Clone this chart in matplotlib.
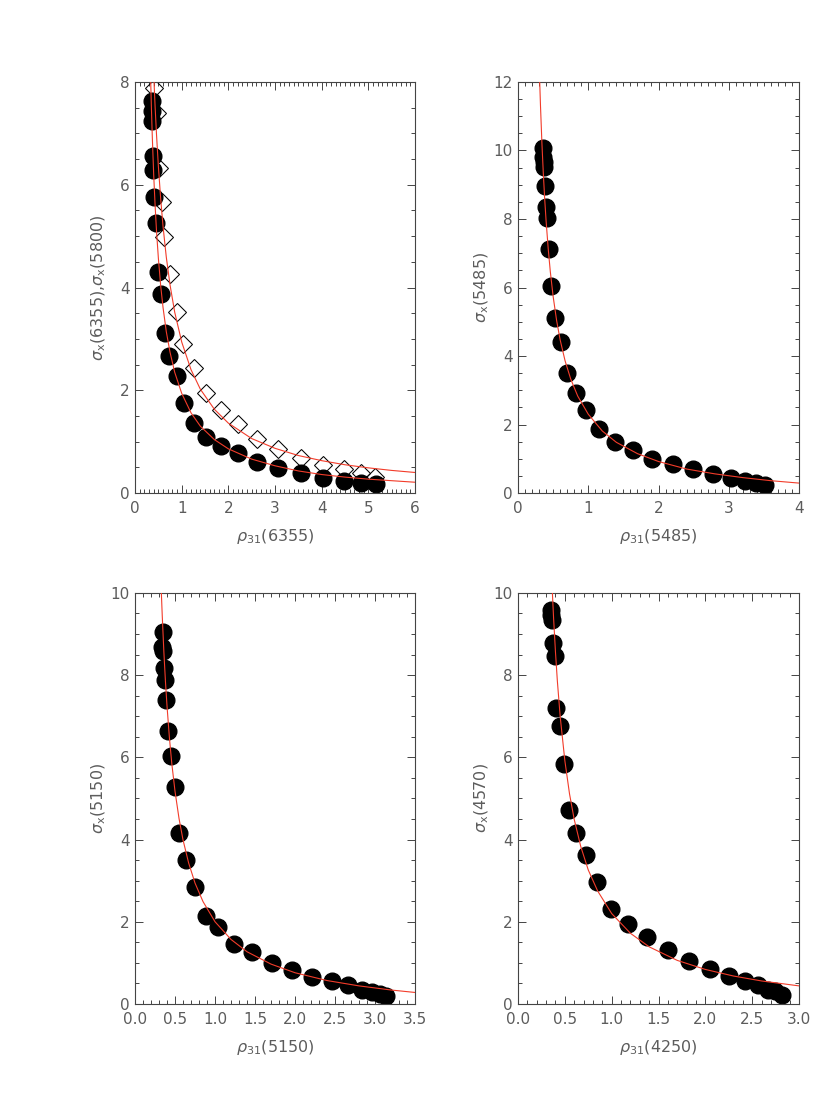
import matplotlib
matplotlib.use("Agg")
import matplotlib.pyplot as plt
from matplotlib.ticker import MultipleLocator

# ---- panel 1 : 6355 (circles) and 5800 (diamonds)
rho_6355 = [0.357, 0.357, 0.357, 0.379, 0.393, 0.414, 0.45, 0.50, 0.557, 0.643, 0.736, 0.893,
            1.05, 1.27, 1.52, 1.84, 2.20, 2.62, 3.07, 3.55, 4.02, 4.48, 4.84, 5.16]
sig_6355 = [7.63, 7.44, 7.25, 6.56, 6.29, 5.77, 5.26, 4.31, 3.87, 3.11, 2.66, 2.28,
            1.76, 1.37, 1.10, 0.92, 0.77, 0.60, 0.49, 0.38, 0.30, 0.24, 0.20, 0.17]
rho_5800 = [0.407, 0.48, 0.52, 0.571, 0.629, 0.75, 0.893, 1.036, 1.27, 1.52, 1.84, 2.20,
            2.62, 3.07, 3.55, 4.02, 4.47, 4.85, 5.15]
sig_5800 = [7.88, 7.39, 6.32, 5.67, 4.98, 4.26, 3.53, 2.90, 2.44, 1.94, 1.61, 1.34,
            1.05, 0.86, 0.69, 0.54, 0.47, 0.39, 0.32]
# fit curves
fit1a_x = [0.336, 0.35, 0.37, 0.40, 0.43, 0.46, 0.50, 0.55, 0.60, 0.67, 0.75, 0.85, 1.0,
           1.2, 1.4, 1.7, 2.0, 2.5, 3.0, 3.5, 4.0, 4.5, 5.0, 5.5, 6.0]
fit1a_y = [8.0, 7.52, 6.93, 6.19, 5.60, 5.10, 4.57, 4.03, 3.61, 3.14, 2.74, 2.35, 1.94,
           1.56, 1.30, 1.04, 0.86, 0.66, 0.53, 0.43, 0.36, 0.31, 0.27, 0.24, 0.21]
fit1b_x = [0.407, 0.43, 0.46, 0.50, 0.55, 0.60, 0.67, 0.75, 0.85, 1.0, 1.2, 1.4, 1.7,
           2.0, 2.5, 3.0, 3.5, 4.0, 4.5, 5.0, 5.5, 6.0]
fit1b_y = [8.0, 7.52, 6.98, 6.36, 5.72, 5.19, 4.59, 4.05, 3.52, 2.94, 2.40, 2.02, 1.63,
           1.36, 1.06, 0.87, 0.73, 0.63, 0.55, 0.49, 0.44, 0.40]

# ---- panel 2 : 5485
rho_5485 = [0.356, 0.356, 0.366, 0.366, 0.38, 0.404, 0.418, 0.442, 0.475, 0.532, 0.608, 0.703,
            0.831, 0.974, 1.154, 1.378, 1.63, 1.91, 2.20, 2.49, 2.78, 3.03, 3.23, 3.39, 3.51]
sig_5485 = [10.06, 9.81, 9.67, 9.52, 8.97, 8.36, 8.04, 7.13, 6.05, 5.12, 4.40, 3.51,
            2.93, 2.42, 1.88, 1.48, 1.25, 0.99, 0.85, 0.69, 0.55, 0.45, 0.35, 0.28, 0.22]
fit2_x = [0.309, 0.32, 0.34, 0.36, 0.38, 0.40, 0.43, 0.46, 0.50, 0.55, 0.60, 0.67, 0.75,
          0.85, 1.0, 1.2, 1.4, 1.7, 2.0, 2.4, 2.8, 3.2, 3.6, 4.0]
fit2_y = [12.0, 11.31, 10.23, 9.34, 8.58, 7.94, 7.13, 6.46, 5.74, 5.03, 4.47, 3.86, 3.33,
          2.83, 2.30, 1.81, 1.48, 1.15, 0.92, 0.70, 0.56, 0.45, 0.36, 0.29]

# ---- panel 3 : 5150
rho_5150 = [0.346, 0.333, 0.354, 0.363, 0.375, 0.388, 0.417, 0.446, 0.50, 0.554, 0.638, 0.75,
            0.883, 1.042, 1.24, 1.467, 1.708, 1.958, 2.217, 2.458, 2.667, 2.842, 2.967, 3.06, 3.14]
sig_5150 = [9.05, 8.69, 8.59, 8.17, 7.88, 7.39, 6.65, 6.04, 5.27, 4.15, 3.51, 2.84,
            2.13, 1.88, 1.47, 1.26, 1.00, 0.83, 0.66, 0.57, 0.45, 0.35, 0.29, 0.24, 0.19]
fit3_x = [0.329, 0.34, 0.36, 0.38, 0.40, 0.43, 0.46, 0.50, 0.55, 0.60, 0.67, 0.75, 0.85,
          1.0, 1.2, 1.4, 1.7, 2.0, 2.4, 2.8, 3.2, 3.5]
fit3_y = [10.0, 9.45, 8.58, 7.85, 7.24, 6.47, 5.84, 5.17, 4.51, 3.99, 3.43, 2.94, 2.49,
          2.00, 1.57, 1.27, 0.97, 0.76, 0.57, 0.44, 0.34, 0.28]

# ---- panel 4 : 4570 vs rho(4250)
rho_4250 = [0.356, 0.356, 0.363, 0.374, 0.392, 0.41, 0.445, 0.492, 0.545, 0.623, 0.723, 0.844,
            0.998, 1.175, 1.372, 1.596, 1.824, 2.048, 2.248, 2.423, 2.565, 2.672, 2.743, 2.814]
sig_4570 = [9.58, 9.46, 9.34, 8.79, 8.47, 7.19, 6.77, 5.83, 4.72, 4.17, 3.62, 2.96,
            2.32, 1.95, 1.62, 1.32, 1.05, 0.85, 0.69, 0.55, 0.47, 0.35, 0.31, 0.23]
fit4_x = [0.367, 0.38, 0.40, 0.42, 0.45, 0.50, 0.55, 0.60, 0.67, 0.75, 0.85, 1.0, 1.2,
          1.4, 1.7, 2.0, 2.3, 2.6, 3.0]
fit4_y = [10.0, 9.38, 8.56, 7.86, 7.00, 5.92, 5.11, 4.49, 3.83, 3.26, 2.75, 2.20, 1.72,
          1.39, 1.06, 0.84, 0.68, 0.56, 0.44]

TXT = "#5c5c5c"
RED = "#f23c2a"

plt.rcParams["font.family"] = ["DejaVu Sans"]
plt.rcParams["mathtext.fontset"] = "dejavusans"

fig = plt.figure(figsize=(8.3, 11.2), dpi=100)


def style(ax, xmax, xmaj, ymax, xlab, ylab):
    ax.set_xlim(0, xmax)
    ax.set_ylim(0, ymax)
    ax.xaxis.set_major_locator(MultipleLocator(xmaj))
    ax.xaxis.set_minor_locator(MultipleLocator(0.1))
    ax.yaxis.set_major_locator(MultipleLocator(2))
    ax.yaxis.set_minor_locator(MultipleLocator(0.5))
    ax.tick_params(which="both", direction="in", top=True, right=True,
                   color="#444444", width=0.7, labelcolor=TXT, labelsize=11)
    ax.tick_params(which="major", length=5.5)
    ax.tick_params(which="minor", length=2.8)
    ax.tick_params(axis="x", pad=6)
    ax.tick_params(axis="y", pad=4)
    for s in ax.spines.values():
        s.set_color("#444444")
        s.set_linewidth(0.8)
    ax.set_xlabel(xlab, fontsize=11.5, color=TXT)
    ax.set_ylabel(ylab, fontsize=11.5, color=TXT)
    ax.xaxis.set_label_coords(0.5, -0.082)
    ax.yaxis.set_label_coords(-0.095, 0.5)


ax1 = fig.add_axes([0.1627, 0.5598, 0.3373, 0.3670])
ax1.plot(rho_6355, sig_6355, "o", color="black", ms=12, zorder=2)
ax1.plot(rho_5800, sig_5800, "D", mfc="none", mec="black", mew=0.75, ms=9.5, zorder=2)
ax1.plot(fit1a_x, fit1a_y, color=RED, lw=0.8, zorder=3)
ax1.plot(fit1b_x, fit1b_y, color=RED, lw=0.8, zorder=3)
style(ax1, 6, 1, 8, r"$\rho_{31}$(6355)", r"$\sigma_{\rm x}$(6355),$\sigma_{\rm x}$(5800)")
ax1.xaxis.set_major_formatter(matplotlib.ticker.FormatStrFormatter("%d"))

ax2 = fig.add_axes([0.6241, 0.5598, 0.3386, 0.3670])
ax2.plot(rho_5485, sig_5485, "o", color="black", ms=12, zorder=2)
ax2.plot(fit2_x, fit2_y, color=RED, lw=0.8, zorder=3)
style(ax2, 4, 1, 12, r"$\rho_{31}$(5485)", r"$\sigma_{\rm x}$(5485)")
ax2.xaxis.set_major_formatter(matplotlib.ticker.FormatStrFormatter("%d"))

ax3 = fig.add_axes([0.1627, 0.1036, 0.3373, 0.3670])
ax3.plot(rho_5150, sig_5150, "o", color="black", ms=12, zorder=2)
ax3.plot(fit3_x, fit3_y, color=RED, lw=0.8, zorder=3)
style(ax3, 3.5, 0.5, 10, r"$\rho_{31}$(5150)", r"$\sigma_{\rm x}$(5150)")
ax3.xaxis.set_major_formatter(matplotlib.ticker.FormatStrFormatter("%.1f"))

ax4 = fig.add_axes([0.6241, 0.1036, 0.3386, 0.3670])
ax4.plot(rho_4250, sig_4570, "o", color="black", ms=12, zorder=2)
ax4.plot(fit4_x, fit4_y, color=RED, lw=0.8, zorder=3)
style(ax4, 3.0, 0.5, 10, r"$\rho_{31}$(4250)", r"$\sigma_{\rm x}$(4570)")
ax4.xaxis.set_major_formatter(matplotlib.ticker.FormatStrFormatter("%.1f"))

for ax in (ax1, ax2, ax3, ax4):
    ax.yaxis.set_major_formatter(matplotlib.ticker.FormatStrFormatter("%d"))

fig.savefig("out.png", dpi=100, facecolor="white")
